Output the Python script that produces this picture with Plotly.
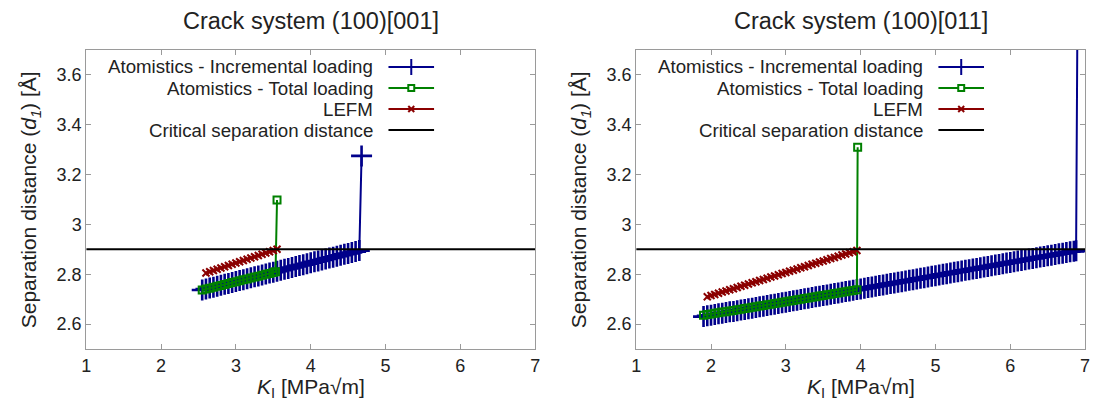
import plotly.graph_objects as go

# ---------------- data ----------------
# Panel 1: crack system (100)[001]
K_inc_001 = [2.55, 2.60, 2.65, 2.70, 2.75, 2.80, 2.85, 2.90, 2.95, 3.00,
             3.05, 3.10, 3.15, 3.20, 3.25, 3.30, 3.35, 3.40, 3.45, 3.50,
             3.55, 3.60, 3.65, 3.70, 3.75, 3.80, 3.85, 3.90, 3.95, 4.00,
             4.05, 4.10, 4.15, 4.20, 4.25, 4.30, 4.35, 4.40, 4.45, 4.50,
             4.55, 4.60, 4.65, 4.68]
d_inc_001 = [2.737, 2.741, 2.745, 2.748, 2.752, 2.756, 2.760, 2.763, 2.767, 2.771,
             2.775, 2.778, 2.782, 2.786, 2.790, 2.793, 2.797, 2.801, 2.805, 2.808,
             2.812, 2.816, 2.820, 2.823, 2.827, 2.831, 2.835, 2.838, 2.842, 2.846,
             2.850, 2.853, 2.857, 2.861, 2.865, 2.868, 2.872, 2.876, 2.880, 2.883,
             2.887, 2.891, 2.895, 3.275]

K_tot_001 = [2.55, 2.60, 2.65, 2.70, 2.75, 2.80, 2.85, 2.90, 2.95, 3.00,
             3.05, 3.10, 3.15, 3.20, 3.25, 3.30, 3.35, 3.40, 3.45, 3.50,
             3.53, 3.55]
d_tot_001 = [2.737, 2.741, 2.744, 2.748, 2.752, 2.755, 2.759, 2.763, 2.767, 2.770,
             2.774, 2.778, 2.781, 2.785, 2.789, 2.792, 2.796, 2.800, 2.803, 2.807,
             2.810, 3.098]

K_lefm_001 = [2.60, 2.65, 2.70, 2.75, 2.80, 2.85, 2.90, 2.95, 3.00, 3.05,
              3.10, 3.15, 3.20, 3.25, 3.30, 3.35, 3.40, 3.45, 3.50, 3.55]
d_lefm_001 = [2.805, 2.810, 2.815, 2.820, 2.825, 2.830, 2.835, 2.840, 2.845, 2.850,
              2.855, 2.860, 2.865, 2.870, 2.875, 2.880, 2.885, 2.890, 2.895, 2.900]

# Panel 2: crack system (100)[011]
K_inc_011 = [1.90, 1.95, 2.00, 2.05, 2.10, 2.15, 2.20, 2.25, 2.30, 2.35,
             2.40, 2.45, 2.50, 2.55, 2.60, 2.65, 2.70, 2.75, 2.80, 2.85,
             2.90, 2.95, 3.00, 3.05, 3.10, 3.15, 3.20, 3.25, 3.30, 3.35,
             3.40, 3.45, 3.50, 3.55, 3.60, 3.65, 3.70, 3.75, 3.80, 3.85,
             3.90, 3.95, 4.00, 4.05, 4.10, 4.15, 4.20, 4.25, 4.30, 4.35,
             4.40, 4.45, 4.50, 4.55, 4.60, 4.65, 4.70, 4.75, 4.80, 4.85,
             4.90, 4.95, 5.00, 5.05, 5.10, 5.15, 5.20, 5.25, 5.30, 5.35,
             5.40, 5.45, 5.50, 5.55, 5.60, 5.65, 5.70, 5.75, 5.80, 5.85,
             5.90, 5.95, 6.00, 6.05, 6.10, 6.15, 6.20, 6.25, 6.30, 6.35,
             6.40, 6.45, 6.50, 6.55, 6.60, 6.65, 6.70, 6.75, 6.80, 6.85,
             6.88, 6.90]
d_inc_011 = [2.630, 2.633, 2.635, 2.638, 2.641, 2.643, 2.646, 2.649, 2.651, 2.654,
             2.657, 2.659, 2.662, 2.664, 2.667, 2.670, 2.672, 2.675, 2.678, 2.680,
             2.683, 2.686, 2.688, 2.691, 2.694, 2.696, 2.699, 2.702, 2.704, 2.707,
             2.710, 2.712, 2.715, 2.717, 2.720, 2.723, 2.725, 2.728, 2.731, 2.733,
             2.736, 2.739, 2.741, 2.744, 2.747, 2.749, 2.752, 2.755, 2.757, 2.760,
             2.763, 2.765, 2.768, 2.770, 2.773, 2.776, 2.778, 2.781, 2.784, 2.786,
             2.789, 2.792, 2.794, 2.797, 2.800, 2.802, 2.805, 2.808, 2.810, 2.813,
             2.816, 2.818, 2.821, 2.823, 2.826, 2.829, 2.831, 2.834, 2.837, 2.839,
             2.842, 2.845, 2.847, 2.850, 2.853, 2.855, 2.858, 2.861, 2.863, 2.866,
             2.869, 2.871, 2.874, 2.876, 2.879, 2.882, 2.884, 2.887, 2.890, 2.892,
             2.894, 3.950]

K_tot_011 = [1.90, 1.95, 2.00, 2.05, 2.10, 2.15, 2.20, 2.25, 2.30, 2.35,
             2.40, 2.45, 2.50, 2.55, 2.60, 2.65, 2.70, 2.75, 2.80, 2.85,
             2.90, 2.95, 3.00, 3.05, 3.10, 3.15, 3.20, 3.25, 3.30, 3.35,
             3.40, 3.45, 3.50, 3.55, 3.60, 3.65, 3.70, 3.75, 3.80, 3.85,
             3.90, 3.95, 3.96]
d_tot_011 = [2.635, 2.638, 2.640, 2.643, 2.645, 2.648, 2.650, 2.653, 2.655, 2.658,
             2.660, 2.663, 2.665, 2.668, 2.670, 2.673, 2.675, 2.678, 2.680, 2.683,
             2.685, 2.688, 2.690, 2.693, 2.695, 2.698, 2.700, 2.703, 2.705, 2.708,
             2.710, 2.713, 2.715, 2.718, 2.720, 2.723, 2.725, 2.728, 2.730, 2.733,
             2.735, 2.738, 3.310]

K_lefm_011 = [1.95, 2.00, 2.05, 2.10, 2.15, 2.20, 2.25, 2.30, 2.35, 2.40,
              2.45, 2.50, 2.55, 2.60, 2.65, 2.70, 2.75, 2.80, 2.85, 2.90,
              2.95, 3.00, 3.05, 3.10, 3.15, 3.20, 3.25, 3.30, 3.35, 3.40,
              3.45, 3.50, 3.55, 3.60, 3.65, 3.70, 3.75, 3.80, 3.85, 3.90,
              3.95]
d_lefm_011 = [2.710, 2.715, 2.719, 2.724, 2.729, 2.733, 2.738, 2.742, 2.747, 2.752,
              2.756, 2.761, 2.766, 2.770, 2.775, 2.779, 2.784, 2.789, 2.793, 2.798,
              2.803, 2.807, 2.812, 2.816, 2.821, 2.826, 2.830, 2.835, 2.840, 2.844,
              2.849, 2.853, 2.858, 2.863, 2.867, 2.872, 2.877, 2.881, 2.886, 2.890,
              2.895]

critical_d = 2.90

panel_titles = ["Crack system (100)[001]", "Crack system (100)[011]"]
legend_labels = ["Atomistics - Incremental loading", "Atomistics - Total loading",
                 "LEFM", "Critical separation distance"]
x_range = [1, 7]
y_range = [2.5, 3.7]
x_tick_vals = [1, 2, 3, 4, 5, 6, 7]
y_tick_vals = [2.6, 2.8, 3.0, 3.2, 3.4, 3.6]
y_tick_text = ["2.6", "2.8", "3", "3.2", "3.4", "3.6"]
x_title = "<i>K</i><sub>I</sub> [MPa√m]"
y_title = "Separation distance (<i>d<sub>1</sub></i>) [Å]"

# ---------------- style ----------------
BLUE = "#00008B"
GREEN = "#008000"
RED = "#8B0000"
BLACK = "#000000"
AXC = "#9a9a9a"
FONT = "Liberation Sans, Arial, sans-serif"

W, H = 1099, 405
PX_L = [82, 637]      # plot-area left edges (px)
PX_W = 453            # plot-area width (px)
PX_T, PX_B = 50, 349  # plot-area top/bottom (px)
PX_H = PX_B - PX_T

panels = [
    (K_inc_001, d_inc_001, K_tot_001, d_tot_001, K_lefm_001, d_lefm_001),
    (K_inc_011, d_inc_011, K_tot_011, d_tot_011, K_lefm_011, d_lefm_011),
]

fig = go.Figure()
for i, (ki, di, kt, dt, kl, dl) in enumerate(panels):
    xa = "x" if i == 0 else "x2"
    ya = "y" if i == 0 else "y2"
    fig.add_trace(go.Scatter(x=ki, y=di, mode="lines+markers", xaxis=xa, yaxis=ya,
                             line=dict(color=BLUE, width=2),
                             marker=dict(symbol="cross-thin", size=15, color=BLUE,
                                         line=dict(color=BLUE, width=2.6)),
                             showlegend=False))
    fig.add_trace(go.Scatter(x=kt, y=dt, mode="lines+markers", xaxis=xa, yaxis=ya,
                             line=dict(color=GREEN, width=2),
                             marker=dict(symbol="square-open", size=7, color=GREEN,
                                         line=dict(color=GREEN, width=2)),
                             showlegend=False))
    fig.add_trace(go.Scatter(x=kl, y=dl, mode="lines+markers", xaxis=xa, yaxis=ya,
                             line=dict(color=RED, width=2),
                             marker=dict(symbol="x-thin", size=7, color=RED,
                                         line=dict(color=RED, width=2)),
                             showlegend=False))
    fig.add_trace(go.Scatter(x=x_range, y=[critical_d, critical_d], mode="lines",
                             xaxis=xa, yaxis=ya, line=dict(color=BLACK, width=2),
                             showlegend=False))

axis_common = dict(showline=True, linecolor=AXC, linewidth=1, mirror="ticks",
                   ticks="inside", ticklen=5, tickcolor=AXC, tickwidth=1,
                   showgrid=False, zeroline=False,
                   tickfont=dict(family=FONT, size=18, color="#222"))

layout = dict(width=W, height=H, margin=dict(l=0, r=0, t=0, b=0, pad=0),
              paper_bgcolor="white", plot_bgcolor="white",
              font=dict(family=FONT, color="#222"), showlegend=False)

ydom = [(H - PX_B) / H, (H - PX_T) / H]
for i in range(2):
    sfx = "" if i == 0 else "2"
    layout["xaxis" + sfx] = dict(axis_common, domain=[PX_L[i] / W, (PX_L[i] + PX_W) / W],
                                 range=x_range, tickvals=x_tick_vals,
                                 anchor="y" + sfx)
    layout["yaxis" + sfx] = dict(axis_common, domain=ydom, range=y_range,
                                 tickvals=y_tick_vals, ticktext=y_tick_text,
                                 anchor="x" + sfx)
fig.update_layout(**layout)

annotations = []
shapes = []
row_px = [67, 88, 109, 130]
text_right_px = 291
line_px = (305, 351)
mk_px = 328
colors = [BLUE, GREEN, RED, BLACK]
for i in range(2):
    xd = ("x" if i == 0 else "x2") + " domain"
    yd = ("y" if i == 0 else "y2") + " domain"
    cx = PX_L[i] + PX_W / 2
    # panel title
    annotations.append(dict(text=panel_titles[i], x=cx / W, y=(H - 21) / H,
                            xref="paper", yref="paper", showarrow=False,
                            xanchor="center", yanchor="middle",
                            font=dict(family=FONT, size=23.5, color="#222")))
    # axis titles
    annotations.append(dict(text=x_title, x=cx / W, y=(H - 388) / H,
                            xref="paper", yref="paper", showarrow=False,
                            xanchor="center", yanchor="middle",
                            font=dict(family=FONT, size=21, color="#222")))
    annotations.append(dict(text=y_title, x=(PX_L[i] - 57) / W,
                            y=(H - (PX_T + PX_B) / 2) / H,
                            xref="paper", yref="paper", showarrow=False,
                            textangle=-90, xanchor="center", yanchor="middle",
                            font=dict(family=FONT, size=21, color="#222")))
    # legend (text left, sample right)
    for r, lab in enumerate(legend_labels):
        yy = (PX_B - row_px[r]) / PX_H
        annotations.append(dict(text=lab, x=text_right_px / PX_W, y=yy,
                                xref=xd, yref=yd, showarrow=False,
                                xanchor="right", yanchor="middle",
                                font=dict(family=FONT, size=18.7, color="#222")))
        shapes.append(dict(type="line", xref=xd, yref=yd,
                           x0=line_px[0] / PX_W, x1=line_px[1] / PX_W, y0=yy, y1=yy,
                           line=dict(color=colors[r], width=2)))
        mx = mk_px / PX_W
        ux, uy = 1 / PX_W, 1 / PX_H
        if r == 0:
            shapes.append(dict(type="line", xref=xd, yref=yd, x0=mx, x1=mx,
                               y0=yy - 8 * uy, y1=yy + 8 * uy,
                               line=dict(color=BLUE, width=2)))
        elif r == 1:
            shapes.append(dict(type="rect", xref=xd, yref=yd,
                               x0=mx - 3 * ux, x1=mx + 3 * ux,
                               y0=yy - 3 * uy, y1=yy + 3 * uy,
                               fillcolor="white", line=dict(color=GREEN, width=2)))
        elif r == 2:
            for s in (1, -1):
                shapes.append(dict(type="line", xref=xd, yref=yd,
                                   x0=mx - 3 * ux, x1=mx + 3 * ux,
                                   y0=yy - s * 3 * uy, y1=yy + s * 3 * uy,
                                   line=dict(color=RED, width=2)))

fig.update_layout(annotations=annotations, shapes=shapes)
fig.write_html("out.html")
